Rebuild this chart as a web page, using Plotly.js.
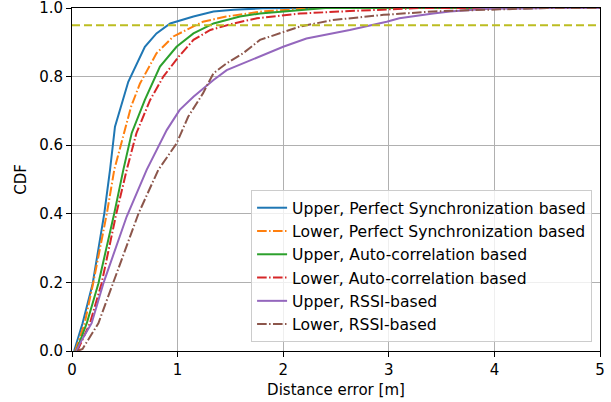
<!DOCTYPE html>
<html>
<head>
<meta charset="utf-8">
<script src="https://cdn.plot.ly/plotly-3.0.1.min.js"></script>
<style>html,body{margin:0;padding:0;background:#fff;}#chart{width:611px;height:402px;}</style>
</head>
<body>
<div id="chart"></div>
<script>
// Data
const upperSyncX = [0.02,0.10,0.196,0.306,0.36,0.407,0.533,0.69,0.80,0.93,1.15,1.34,1.53,1.8,2.2,5];
const upperSyncY = [0,0.081,0.197,0.401,0.528,0.654,0.785,0.887,0.926,0.955,0.975,0.99,0.995,0.999,1,1];

const lowerSyncX = [0.03,0.12,0.20,0.33,0.40,0.44,0.559,0.644,0.80,0.96,1.15,1.24,1.46,1.8,2.3,5];
const lowerSyncY = [0,0.081,0.197,0.401,0.528,0.576,0.712,0.78,0.868,0.917,0.946,0.96,0.975,0.99,1,1];

const upperAutoX = [0.04,0.14,0.25,0.40,0.486,0.565,0.69,0.833,0.99,1.15,1.34,1.59,1.78,2.0,2.4,5];
const upperAutoY = [0,0.081,0.197,0.401,0.528,0.635,0.732,0.829,0.887,0.926,0.955,0.975,0.984,0.99,1,1];

const lowerAutoX = [0.05,0.17,0.28,0.42,0.518,0.61,0.74,0.865,1.01,1.15,1.31,1.53,1.75,2.16,2.63,2.95,3.3,5];
const lowerAutoY = [0,0.081,0.197,0.401,0.528,0.635,0.732,0.80,0.858,0.907,0.936,0.955,0.97,0.984,0.991,0.995,1,1];

const upperRssiX = [0.04,0.076,0.186,0.297,0.518,0.707,0.897,1.02,1.15,1.34,1.465,1.69,2.0,2.22,2.63,2.98,3.1,3.42,3.58,3.9,4.5,5];
const upperRssiY = [0,0.023,0.081,0.197,0.392,0.528,0.644,0.703,0.741,0.79,0.819,0.848,0.887,0.911,0.936,0.96,0.97,0.984,0.99,0.997,1,1];

const lowerRssiX = [0.05,0.1,0.25,0.39,0.63,0.817,0.99,1.10,1.24,1.34,1.465,1.62,1.78,2.16,2.47,2.95,3.42,4.05,4.5,5];
const lowerRssiY = [0,0.006,0.081,0.197,0.401,0.528,0.605,0.683,0.751,0.81,0.839,0.868,0.907,0.946,0.965,0.98,0.99,0.996,1,1];

const thresholdX = [0, 5];
const thresholdY = [0.95, 0.95];

const seriesNames = [
  'Upper, Perfect Synchronization based',
  'Lower, Perfect Synchronization based',
  'Upper, Auto-correlation based',
  'Lower, Auto-correlation based',
  'Upper, RSSI-based',
  'Lower, RSSI-based'
];
const xTicks = [0,1,2,3,4,5];
const yTicks = [0,0.2,0.4,0.6,0.8,1.0];

const FS = 15;
const dashDot = '9.6px,2.4px,1.5px,2.4px';
function tr(x, y, name, color, dash) {
  return {x: x, y: y, name: name, type: 'scatter', mode: 'lines',
    line: {color: color, width: 2, dash: dash}};
}
const data = [
  tr(upperSyncX, upperSyncY, seriesNames[0], '#1f77b4', 'solid'),
  tr(lowerSyncX, lowerSyncY, seriesNames[1], '#ff7f0e', dashDot),
  tr(upperAutoX, upperAutoY, seriesNames[2], '#2ca02c', 'solid'),
  tr(lowerAutoX, lowerAutoY, seriesNames[3], '#d62728', dashDot),
  tr(upperRssiX, upperRssiY, seriesNames[4], '#9467bd', 'solid'),
  tr(lowerRssiX, lowerRssiY, seriesNames[5], '#8c564b', dashDot),
  {x: thresholdX, y: thresholdY, type: 'scatter', mode: 'lines', showlegend: false,
   line: {color: '#bcbd22', width: 2, dash: '8px,4px'}}
];

const axisCommon = {
  showline: true, linecolor: '#000', linewidth: 1, mirror: true,
  ticks: 'outside', ticklen: 5, tickcolor: '#000', tickwidth: 1,
  showgrid: true, gridcolor: '#b0b0b0', gridwidth: 1,
  zeroline: false, ticklabeloverflow: 'allow',
  tickfont: {family: 'DejaVu Sans', size: FS, color: '#000'}
};

const layout = {
  width: 611, height: 402,
  margin: {l: 72, r: 11, t: 8, b: 51},
  paper_bgcolor: '#fff', plot_bgcolor: '#fff',
  font: {family: 'DejaVu Sans', size: FS, color: '#000'},
  xaxis: Object.assign({}, axisCommon, {
    range: [0, 5], tickvals: xTicks, ticktext: xTicks.map(String),
    title: {text: 'Distance error [m]', font: {family: 'DejaVu Sans', size: FS}, standoff: 6}
  }),
  yaxis: Object.assign({}, axisCommon, {
    range: [0, 1], tickvals: yTicks, ticktext: yTicks.map(v => v.toFixed(1)),
    title: {text: 'CDF', font: {family: 'DejaVu Sans', size: FS}, standoff: 8}
  }),
  legend: {
    x: 0.985, y: 0.026, xanchor: 'right', yanchor: 'bottom',
    bgcolor: 'rgba(255,255,255,0.8)', bordercolor: '#cccccc', borderwidth: 1,
    font: {family: 'DejaVu Sans', size: 15.6, color: '#000'},
    tracegroupgap: 0
  },
  showlegend: true
};

Plotly.newPlot('chart', data, layout, {displayModeBar: false, staticPlot: true});
</script>
</body>
</html>
